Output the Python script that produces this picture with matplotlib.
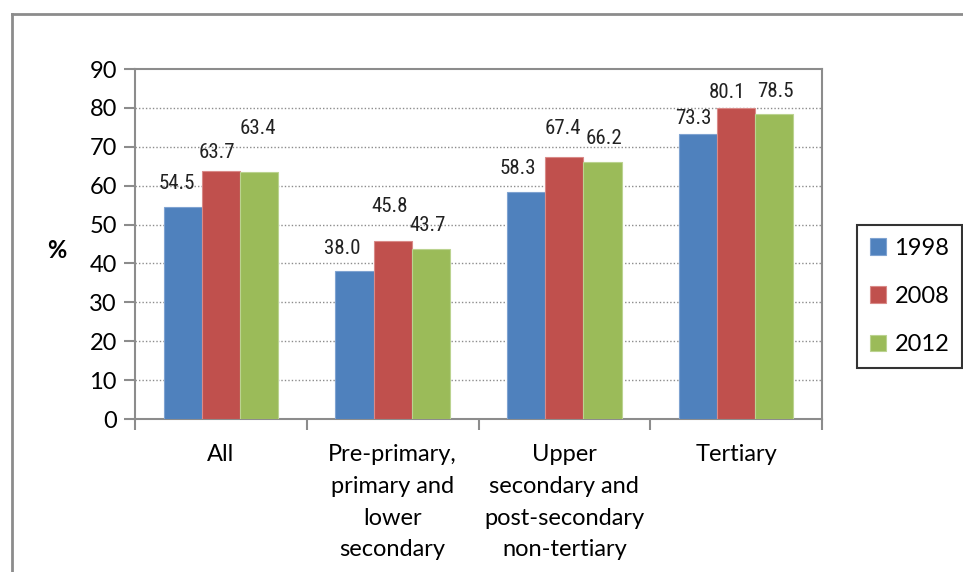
import matplotlib
matplotlib.use("Agg")
import matplotlib.pyplot as plt
from matplotlib import font_manager
from matplotlib.patches import Patch
from matplotlib.lines import Line2D
import numpy as np

categories = ["All", "Pre-primary,\nprimary and\nlower\nsecondary",
              "Upper\nsecondary and\npost-secondary\nnon-tertiary", "Tertiary"]
years = ["1998", "2008", "2012"]
v1998 = [54.5, 38.0, 58.3, 73.3]
v2008 = [63.7, 45.8, 67.4, 80.1]
v2012 = [63.4, 43.7, 66.2, 78.5]
yticks = [0, 10, 20, 30, 40, 50, 60, 70, 80, 90]

# label offsets in pixels (dx, dy) from bar top centre
label_offsets = [
    [(-6, 24), (-4, 19), (-1, 44)],
    [(-12, 23), (-3, 34), (-3, 24)],
    [(-8, 24), (-2, 28), (1, 23)],
    [(-5, 15), (-9, 15), (1, 22)],
]

avail = {f.name for f in font_manager.fontManager.ttflist}
main_font = "Lato" if "Lato" in avail else "DejaVu Sans"
narrow = None
for cand in ["Liberation Sans Narrow", "DejaVu Sans Condensed", "Roboto Condensed"]:
    if cand in avail:
        narrow = cand
        break

W, H = 963, 572
fig = plt.figure(figsize=(W / 100, H / 100), dpi=100)
ax = fig.add_axes([135 / W, 1 - 419 / H, (822 - 135) / W, (419 - 69) / H])

colors = ["#4F81BD", "#C0504D", "#9BBB59"]
edges = ["#7FA3D1", "#D98A88", "#BBD390"]
series = [v1998, v2008, v2012]
x = np.arange(len(categories))
bw = 1 / 4.5
for i, (vals, c, ec) in enumerate(zip(series, colors, edges)):
    xs = x + (i - 1) * bw
    ax.bar(xs, vals, width=bw, color=c, edgecolor=ec, linewidth=0.8, zorder=3)
    for j, v in enumerate(vals):
        dx, dy = label_offsets[j][i]
        kw = dict(fontsize=15)
        if narrow:
            kw["family"] = narrow
        else:
            kw["family"] = "DejaVu Sans"
            kw["fontstretch"] = "condensed"
        ax.annotate(f"{v:.1f}", (xs[j], v), xytext=(dx, dy), textcoords="offset pixels",
                    ha="center", va="center", color="#222222", zorder=4, **kw)

ax.set_xlim(-0.5, 3.5)
ax.set_ylim(0, 90)
ax.set_yticks(yticks)
ax.set_yticklabels([str(t) for t in yticks], family=main_font, fontsize=17)
for t in yticks[1:-1]:
    ax.axhline(t, color="#8C8C8C", linestyle=(0, (1, 1.5)), linewidth=1.0, zorder=1)

ax.set_xticks(np.arange(-0.5, 4.0, 1.0))
ax.set_xticklabels([])
ax.tick_params(axis="x", length=8, width=1.5, color="#8C8C8C", direction="out")
ax.tick_params(axis="y", length=8, width=1.5, color="#8C8C8C", direction="out", pad=5)
for s in ax.spines.values():
    s.set_color("#8C8C8C")
    s.set_linewidth(1.5)

for j, cat in enumerate(categories):
    ax.text(x[j], -0.072, cat, transform=ax.get_xaxis_transform(), ha="center", va="top",
            family=main_font, fontsize=17, linespacing=1.63)

fig.text(57 / W, 1 - 250 / H, "%", family=main_font, fontsize=17, fontweight="bold",
         ha="center", va="center")

handles = [Patch(facecolor=c, edgecolor=ec, linewidth=0.8) for c, ec in zip(colors, edges)]
leg = fig.legend(handles, years, loc="center", bbox_to_anchor=(909.5 / W, 1 - 296.5 / H),
                 frameon=True, fancybox=False, handlelength=0.7, handleheight=0.7,
                 handletextpad=0.35, labelspacing=1.15, borderpad=0.55,
                 prop={"family": main_font, "size": 17})
leg.get_frame().set_edgecolor("black")
leg.get_frame().set_linewidth(1.5)

fig.add_artist(Line2D([12 / W, 1], [1 - 13.5 / H, 1 - 13.5 / H], color="#8C8C8C", linewidth=2.0,
                      transform=fig.transFigure))
fig.add_artist(Line2D([12 / W, 12 / W], [1 - 13.5 / H, 0], color="#8C8C8C", linewidth=2.0,
                      transform=fig.transFigure))

fig.savefig("out.png", dpi=100)
